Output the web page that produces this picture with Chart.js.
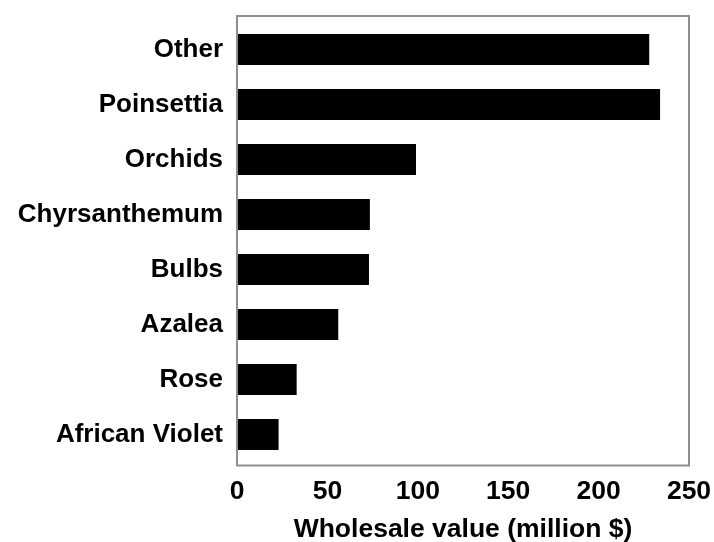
<!DOCTYPE html>
<html>
<head>
<meta charset="utf-8">
<script src="https://cdn.jsdelivr.net/npm/chart.js@4.4.1/dist/chart.umd.min.js"></script>
<style>
  html, body { margin: 0; padding: 0; background: #fff; }
  canvas { display: block; }
</style>
</head>
<body>
<canvas id="chart" width="714" height="542"></canvas>
<script>
const categories = ['Other', 'Poinsettia', 'Orchids', 'Chyrsanthemum', 'Bulbs', 'Azalea', 'Rose', 'African Violet'];
const wholesaleValues = [228, 234, 99, 73.5, 73, 56, 33, 23];
const xTicks = [0, 50, 100, 150, 200, 250];

const FONT = '"Liberation Sans", Arial, Helvetica, sans-serif';

// drop the automatic label overhang padding so layout.padding decides the plot area
function noPad(s) {
  s.paddingTop = s.paddingBottom = s.paddingLeft = s.paddingRight = 0;
}

// grey box round the plot, a little taller than the category band
const frame = {
  id: 'frame',
  afterDraw(chart) {
    const { ctx, chartArea: a } = chart;
    ctx.save();
    ctx.strokeStyle = '#8f8f8f';
    ctx.lineWidth = 2;
    ctx.strokeRect(a.left, a.top - 6, a.right - a.left, a.bottom - a.top + 9.5);
    ctx.restore();
  }
};

new Chart(document.getElementById('chart'), {
  type: 'bar',
  data: {
    labels: categories,
    datasets: [{
      data: wholesaleValues,
      backgroundColor: '#000',
      borderWidth: 0,
      barPercentage: 0.56,
      categoryPercentage: 1
    }]
  },
  options: {
    indexAxis: 'y',
    responsive: false,
    animation: false,
    events: [],
    layout: { padding: { top: 22, right: 25, bottom: 0, left: 0 } },
    scales: {
      x: {
        min: 0,
        max: 250,
        afterBuildTicks: (s) => { s.ticks = xTicks.map(v => ({ value: v })); },
        afterFit: (s) => { s.height = 80; noPad(s); },
        grid: { display: false },
        border: { display: false },
        ticks: {
          color: '#000',
          padding: 6,
          font: { family: FONT, size: 26.5, weight: 'bold' }
        },
        title: {
          display: true,
          text: 'Wholesale value (million $)',
          color: '#000',
          padding: { top: 0, bottom: -4 },
          font: { family: FONT, size: 26.5, weight: 'bold' }
        }
      },
      y: {
        afterFit: (s) => { s.width = 237; noPad(s); },
        grid: { display: false },
        border: { display: false },
        ticks: {
          color: '#000',
          padding: 6,
          font: { family: FONT, size: 26, weight: 'bold' }
        }
      }
    },
    plugins: {
      legend: { display: false },
      tooltip: { enabled: false }
    }
  },
  plugins: [frame]
});
</script>
</body>
</html>
